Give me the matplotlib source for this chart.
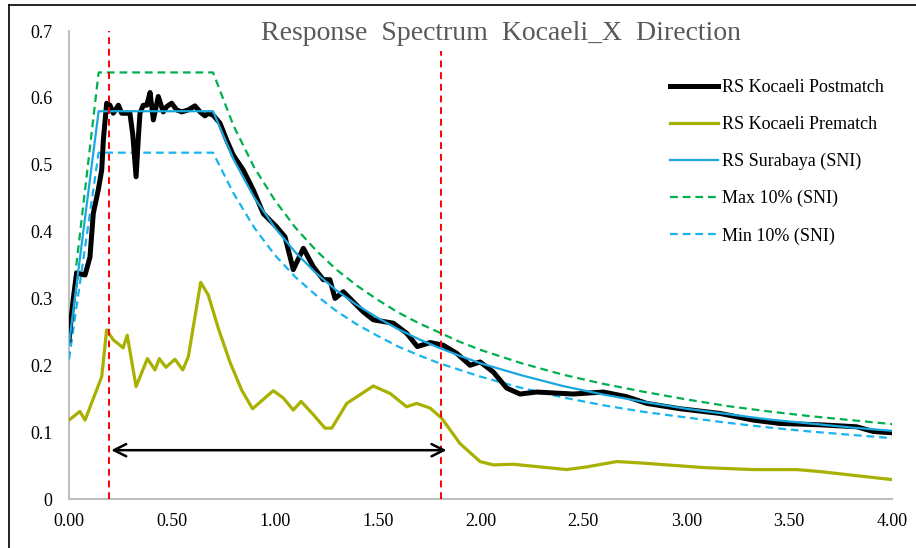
import matplotlib
matplotlib.use("Agg")
import matplotlib.pyplot as plt
from matplotlib.lines import Line2D

plt.rcParams["font.family"] = ["Liberation Serif", "DejaVu Serif"]

# Period (s) and spectral acceleration (g)
post_t = [0.00, 0.021, 0.037, 0.078, 0.102, 0.118, 0.142, 0.159, 0.167, 0.183,
          0.199, 0.215, 0.240, 0.256, 0.296, 0.310, 0.326, 0.338, 0.345, 0.361,
          0.378, 0.394, 0.410, 0.434, 0.458, 0.475, 0.499, 0.523, 0.548, 0.580,
          0.612, 0.637, 0.661, 0.677, 0.701, 0.734, 0.766, 0.799, 0.847, 0.896,
          0.944, 1.009, 1.050, 1.090, 1.139, 1.188, 1.236, 1.268, 1.293, 1.333,
          1.430, 1.479, 1.576, 1.641, 1.693, 1.755, 1.819, 1.884, 1.949, 1.998,
          2.062, 2.127, 2.192, 2.273, 2.451, 2.597, 2.711, 2.808, 2.970, 3.164,
          3.326, 3.456, 3.650, 3.828, 3.909, 4.00]
post_sa = [0.238, 0.300, 0.338, 0.335, 0.362, 0.427, 0.462, 0.492, 0.537, 0.592,
           0.589, 0.577, 0.589, 0.577, 0.577, 0.545, 0.482, 0.545, 0.577, 0.589,
           0.589, 0.608, 0.567, 0.602, 0.579, 0.587, 0.592, 0.582, 0.579, 0.582,
           0.588, 0.579, 0.573, 0.577, 0.574, 0.562, 0.537, 0.514, 0.492, 0.462,
           0.427, 0.407, 0.392, 0.343, 0.375, 0.347, 0.328, 0.328, 0.300, 0.310,
           0.280, 0.268, 0.263, 0.248, 0.228, 0.234, 0.230, 0.218, 0.200, 0.205,
           0.190, 0.166, 0.157, 0.160, 0.157, 0.160, 0.153, 0.143, 0.135, 0.128,
           0.118, 0.113, 0.111, 0.108, 0.101, 0.099]

pre_t = [0.00, 0.053, 0.078, 0.159, 0.183, 0.215, 0.248, 0.263, 0.283, 0.326,
         0.381, 0.418, 0.439, 0.471, 0.515, 0.553, 0.580, 0.640, 0.677, 0.726,
         0.782, 0.839, 0.892, 0.993, 1.042, 1.090, 1.128, 1.188, 1.244, 1.277,
         1.350, 1.479, 1.560, 1.641, 1.690, 1.755, 1.811, 1.900, 1.998, 2.062,
         2.160, 2.289, 2.419, 2.516, 2.662, 2.775, 2.950, 3.083, 3.326, 3.537,
         3.650, 4.00]
pre_sa = [0.118, 0.131, 0.118, 0.183, 0.253, 0.238, 0.230, 0.226, 0.245, 0.168,
          0.210, 0.193, 0.210, 0.197, 0.209, 0.193, 0.213, 0.324, 0.305, 0.255,
          0.205, 0.163, 0.135, 0.162, 0.151, 0.133, 0.146, 0.126, 0.106, 0.106,
          0.143, 0.169, 0.158, 0.138, 0.143, 0.136, 0.121, 0.083, 0.056, 0.051,
          0.052, 0.048, 0.044, 0.048, 0.056, 0.054, 0.050, 0.047, 0.044, 0.044,
          0.041, 0.029]

sni_t = [0.00, 0.144, 0.70, 0.80, 0.90, 1.00, 1.10, 1.20, 1.30, 1.40, 1.50, 1.60,
         1.70, 1.80, 1.90, 2.00, 2.20, 2.40, 2.60, 2.80, 3.00, 3.20, 3.40, 3.60,
         3.80, 4.00]
sni_sa = [0.232, 0.580, 0.580, 0.508, 0.451, 0.406, 0.369, 0.338, 0.312, 0.290,
          0.271, 0.254, 0.239, 0.226, 0.214, 0.203, 0.185, 0.169, 0.156, 0.145,
          0.135, 0.127, 0.119, 0.113, 0.107, 0.102]
max_sa = [0.255, 0.638, 0.638, 0.558, 0.496, 0.447, 0.406, 0.372, 0.343, 0.319,
          0.298, 0.279, 0.263, 0.249, 0.235, 0.223, 0.203, 0.186, 0.172, 0.160,
          0.149, 0.139, 0.131, 0.124, 0.118, 0.112]
min_sa = [0.209, 0.518, 0.518, 0.457, 0.406, 0.365, 0.332, 0.305, 0.281, 0.261,
          0.244, 0.228, 0.215, 0.203, 0.193, 0.183, 0.166, 0.152, 0.140, 0.130,
          0.122, 0.114, 0.107, 0.101, 0.096, 0.091]

range_t = [0.195, 1.81]
range_top = [0.70, 0.67]
arrow_t = [0.205, 1.835]
arrow_sa = 0.073

x_ticks = [0.0, 0.5, 1.0, 1.5, 2.0, 2.5, 3.0, 3.5, 4.0]
x_labels = ["0.00", "0.50", "1.00", "1.50", "2.00", "2.50", "3.00", "3.50", "4.00"]
y_ticks = [0.0, 0.1, 0.2, 0.3, 0.4, 0.5, 0.6, 0.7]
y_labels = ["0", "0.1", "0.2", "0.3", "0.4", "0.5", "0.6", "0.7"]

fig = plt.figure(figsize=(9.16, 5.48), dpi=100)
ax = fig.add_axes([69 / 916, 49 / 548, 823 / 916, 468 / 548])

ax.plot(post_t, post_sa, color="black", lw=3.6, solid_joinstyle="round",
        label="RS Kocaeli Postmatch", zorder=4)
ax.plot(pre_t, pre_sa, color="#A8B000", lw=2.3, solid_joinstyle="round",
        label="RS Kocaeli Prematch", zorder=3)
ax.plot(sni_t, sni_sa, color="#1AA7E0", lw=1.6, label="RS Surabaya (SNI)", zorder=5)
ax.plot(sni_t, max_sa, color="#00B050", lw=1.6, dashes=(3.5, 2.2),
        label="Max 10% (SNI)", zorder=3)
ax.plot(sni_t, min_sa, color="#18B4EE", lw=1.6, dashes=(3.5, 2.2),
        label="Min 10% (SNI)", zorder=3)

for t, top in zip(range_t, range_top):
    ax.plot([t, t], [0, top], color="#FF0000", lw=1.4, dashes=(3.5, 2.5), zorder=6)

ax.annotate("", xy=(arrow_t[0], arrow_sa), xytext=(arrow_t[1], arrow_sa),
            arrowprops=dict(arrowstyle="<->", color="black", lw=1.8,
                            mutation_scale=22, shrinkA=0, shrinkB=0),
            zorder=6)

ax.set_xlim(0, 4)
ax.set_ylim(0, 0.7)
ax.set_xticks(x_ticks, x_labels)
ax.set_yticks(y_ticks, y_labels)
ax.tick_params(axis="both", length=0, labelsize=13)
ax.tick_params(axis="x", pad=10)
ax.tick_params(axis="y", pad=12)
for side in ["top", "right"]:
    ax.spines[side].set_visible(False)
for side in ["left", "bottom"]:
    ax.spines[side].set_color("#BFBFBF")
    ax.spines[side].set_linewidth(1.5)

ax.legend(loc="upper left", bbox_to_anchor=(0.730, 0.897), frameon=False,
          fontsize=13, handlelength=2.66, handletextpad=0.23,
          labelspacing=1.1, borderpad=0, borderaxespad=0)

fig.text(501 / 916, 1 - 33 / 548, "Response  Spectrum  Kocaeli_X  Direction",
         fontsize=20, color="#595959", ha="center", va="center")

# chart border (left and top edges are inside the crop)
fig.add_artist(Line2D([9 / 916, 9 / 916], [0, 1 - 5 / 548], color="black", lw=1.2))
fig.add_artist(Line2D([9 / 916, 1], [1 - 5 / 548, 1 - 5 / 548], color="black", lw=1.2))

plt.savefig("out.png", dpi=100)
